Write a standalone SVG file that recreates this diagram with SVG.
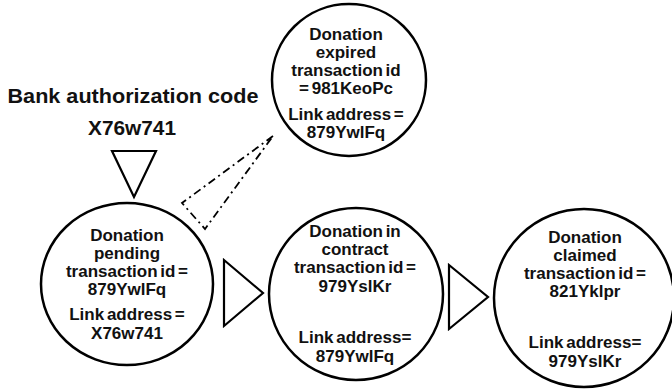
<svg xmlns="http://www.w3.org/2000/svg" width="672" height="390" viewBox="0 0 672 390">
  <style>
    .node { fill: #ffffff; stroke: #000000; stroke-width: 2.5; }
    .arrow { fill: #ffffff; stroke: #000000; stroke-width: 2.2; stroke-linejoin: miter; }
    .link { fill: none; stroke: #000000; stroke-width: 1.8; stroke-dasharray: 8 4 2 4; }
    text { font-family: "Liberation Sans", Arial, sans-serif; font-weight: bold; fill: #111111; text-anchor: middle; }
    .lbl { font-size: 17px; word-spacing: -2px; }
    .head { font-size: 19.5px; }
  </style>

  <!-- auth code heading -->
  <g id="auth-code">
    <text class="head" x="133" y="103" textLength="251" lengthAdjust="spacingAndGlyphs">Bank authorization code</text>
    <text class="head" x="132" y="135" textLength="88" lengthAdjust="spacingAndGlyphs">X76w741</text>
  </g>

  <!-- connectors -->
  <g id="connectors">
    <polygon class="arrow" points="112,151 156,151 134,197"/>
    <polygon class="arrow" points="224,260 224,326 263,293"/>
    <polygon class="arrow" points="449,265 449,329 488,297"/>
    <polygon class="link" points="273,136 182,203 205,229"/>
  </g>

  <g id="expired">
    <ellipse class="node" cx="349" cy="80" rx="77" ry="76"/>
    <text class="lbl" x="346" y="40">Donation</text>
    <text class="lbl" x="346" y="58">expired</text>
    <text class="lbl" x="346" y="76">transaction id</text>
    <text class="lbl" x="346" y="94">= 981KeoPc</text>
    <text class="lbl" x="346" y="120">Link address =</text>
    <text class="lbl" x="346" y="138">879YwlFq</text>
  </g>

  <g id="pending">
    <ellipse class="node" cx="127" cy="284" rx="86" ry="81"/>
    <text class="lbl" x="127" y="241">Donation</text>
    <text class="lbl" x="127" y="259">pending</text>
    <text class="lbl" x="127" y="277">transaction id =</text>
    <text class="lbl" x="127" y="295">879YwlFq</text>
    <text class="lbl" x="127" y="320">Link address =</text>
    <text class="lbl" x="127" y="339">X76w741</text>
  </g>

  <g id="in-contract">
    <ellipse class="node" cx="356" cy="294" rx="87" ry="86"/>
    <text class="lbl" x="355" y="237">Donation in</text>
    <text class="lbl" x="355" y="255">contract</text>
    <text class="lbl" x="355" y="273">transaction id =</text>
    <text class="lbl" x="355" y="292">979YslKr</text>
    <text class="lbl" x="355" y="343">Link address=</text>
    <text class="lbl" x="355" y="362">879YwlFq</text>
  </g>

  <g id="claimed">
    <ellipse class="node" cx="584" cy="298" rx="90" ry="89"/>
    <text class="lbl" x="585" y="243">Donation</text>
    <text class="lbl" x="585" y="261">claimed</text>
    <text class="lbl" x="585" y="279">transaction id =</text>
    <text class="lbl" x="585" y="297">821Yklpr</text>
    <text class="lbl" x="585" y="348">Link address=</text>
    <text class="lbl" x="585" y="367">979YslKr</text>
  </g>
</svg>
